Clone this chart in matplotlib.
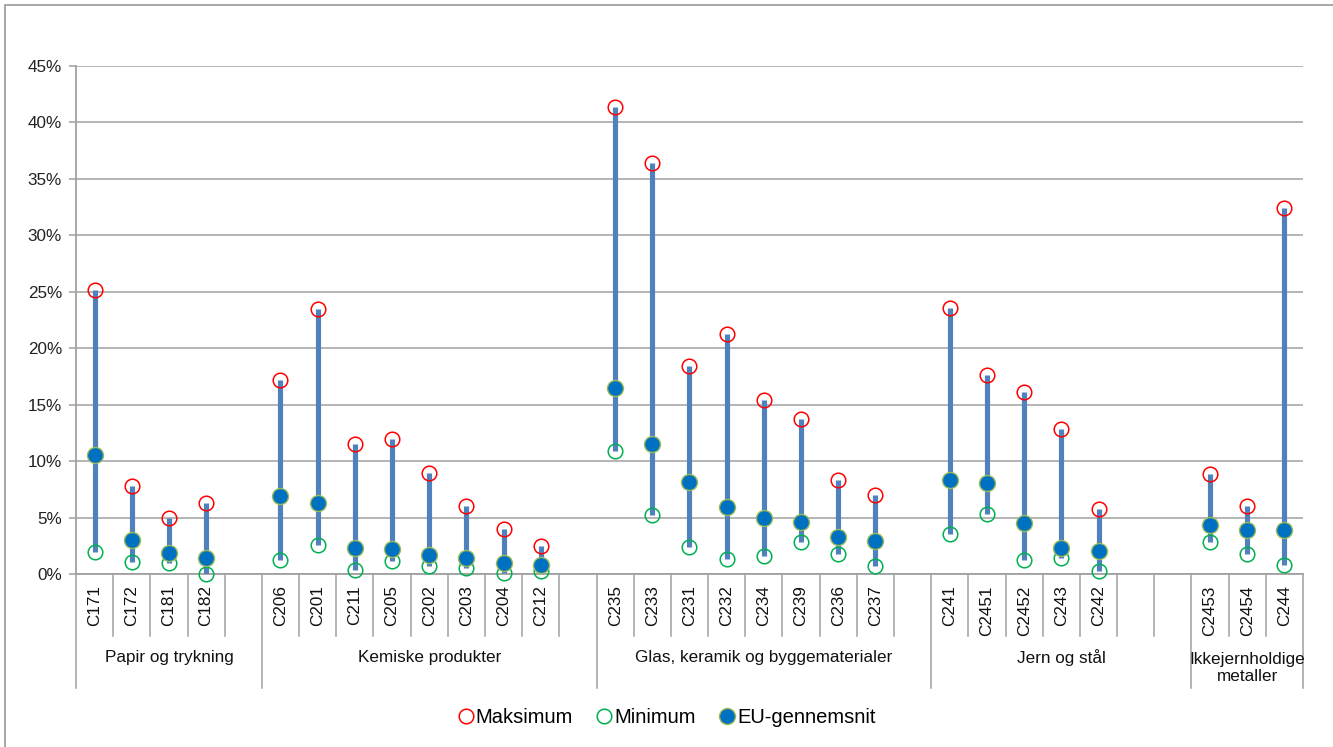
import numpy as np
import matplotlib.pyplot as plt
from matplotlib.lines import Line2D
from matplotlib.patches import Rectangle

plt.rcParams['font.family'] = ['Liberation Sans', 'DejaVu Sans']

# =============================================================================
# DATA (procent, tomme pladser mellem grupperne er '' / nan)
# =============================================================================

koder = ['C171', 'C172', 'C181', 'C182', '',
         'C206', 'C201', 'C211', 'C205', 'C202', 'C203', 'C204', 'C212', '',
         'C235', 'C233', 'C231', 'C232', 'C234', 'C239', 'C236', 'C237', '',
         'C241', 'C2451', 'C2452', 'C243', 'C242', '', '',
         'C2453', 'C2454', 'C244']

maksimum = [25.2, 7.8, 5.0, 6.3, np.nan,
            17.2, 23.5, 11.5, 12.0, 9.0, 6.0, 4.0, 2.5, np.nan,
            41.35, 36.4, 18.4, 21.25, 15.4, 13.7, 8.35, 7.0, np.nan,
            23.6, 17.6, 16.1, 12.9, 5.8, np.nan, np.nan,
            8.9, 6.0, 32.4]

minimum = [2.0, 1.1, 1.0, 0.05, np.nan,
           1.3, 2.55, 0.35, 1.2, 0.7, 0.6, 0.1, 0.25, np.nan,
           10.9, 5.25, 2.4, 1.35, 1.6, 2.85, 1.8, 0.75, np.nan,
           3.6, 5.3, 1.25, 1.45, 0.3, np.nan, np.nan,
           2.9, 1.8, 0.85]

gennemsnit = [10.6, 3.0, 1.85, 1.4, np.nan,
              6.9, 6.3, 2.3, 2.25, 1.75, 1.4, 1.0, 0.85, np.nan,
              16.5, 11.5, 8.15, 5.95, 5.0, 4.6, 3.3, 2.95, np.nan,
              8.35, 8.1, 4.5, 2.3, 2.05, np.nan, np.nan,
              4.4, 3.9, 3.9]

grupper = ['Papir og trykning', 'Kemiske produkter',
           'Glas, keramik og byggematerialer', 'Jern og stål',
           'Ikkejernholdige\nmetaller']
gruppe_pladser = [5, 9, 9, 7, 3]

# =============================================================================
# FIGUR
# =============================================================================

GRAA = '#A0A0A0'
fig = plt.figure(figsize=(13.33, 7.47), dpi=100)
ax = fig.add_axes([0.0570, 0.2312, 0.9205, 0.6808])

x = np.arange(len(koder))
mx = np.array(maksimum)
mn = np.array(minimum)
gs = np.array(gennemsnit)

# high-low linjer
ax.vlines(x, mn, mx, color='#4F81BD', lw=3.7, zorder=3)
ax.plot(x, mx, 'o', ms=10.5, mfc='none', mec='#FF0000', mew=1.1, zorder=4,
        clip_on=False)
ax.plot(x, mn, 'o', ms=10.5, mfc='none', mec='#00B050', mew=1.1, zorder=4,
        clip_on=False)
ax.plot(x, gs, 'o', ms=11.5, mfc='#0070C0', mec='#9BBB59', mew=1.0, zorder=5,
        clip_on=False)

ax.set_xlim(-0.5, len(koder) - 0.5)
ax.set_ylim(0, 45)
ax.set_yticks(np.arange(0, 46, 5))
ax.set_yticklabels([f'{v}%' for v in range(0, 46, 5)], fontsize=12.3, color='#222222')
ax.set_xticks([])
ax.grid(axis='y', color=GRAA, lw=1.1)
ax.set_axisbelow(True)
ax.tick_params(axis='y', length=5, width=1.1, color=GRAA, pad=5)
for s in ['top', 'right']:
    ax.spines[s].set_visible(False)
for s in ['left', 'bottom']:
    ax.spines[s].set_color(GRAA)
    ax.spines[s].set_linewidth(1.3)

# kategoriakse med to niveauer
trans = ax.get_xaxis_transform()
kort = -0.122
lang = -0.223
for i, k in enumerate(koder):
    if k:
        ax.text(i, -0.022, k, transform=trans, rotation=90, ha='center', va='top',
                fontsize=12.3, color='#111111')

start = 0
grenser = [0]
for n in gruppe_pladser:
    start += n
    grenser.append(start)
for b in range(len(koder) + 1):
    y1 = lang if b in grenser else kort
    ax.plot([b - 0.5, b - 0.5], [0, y1], transform=trans, color=GRAA, lw=1.1,
            clip_on=False)

for navn, a, b in zip(grupper, grenser[:-1], grenser[1:]):
    yy = -0.164 if '\n' not in navn else -0.184
    ax.text((a + b - 1) / 2, yy, navn, transform=trans, ha='center', va='center',
            fontsize=12.3, color='#111111', linespacing=1.2)

# legende
handles = [
    Line2D([], [], ls='none', marker='o', ms=10.5, mfc='none', mec='#FF0000', mew=1.1),
    Line2D([], [], ls='none', marker='o', ms=10.5, mfc='none', mec='#00B050', mew=1.1),
    Line2D([], [], ls='none', marker='o', ms=11.5, mfc='#0070C0', mec='#9BBB59', mew=1.0),
]
fig.legend(handles, ['Maksimum', 'Minimum', 'EU-gennemsnit'], loc='center',
           bbox_to_anchor=(0.5, 0.040), ncol=3, frameon=False, fontsize=14.5,
           handlelength=0.8, handletextpad=0.1, columnspacing=1.15)

# ydre ramme
fig.patches.append(Rectangle((5 / 1333, -0.1), 1.2, 1 - 4.5 / 747 + 0.1,
                             transform=fig.transFigure, fill=False,
                             edgecolor='#A0A0A0', lw=1.3))

fig.savefig('out.png', dpi=100)
